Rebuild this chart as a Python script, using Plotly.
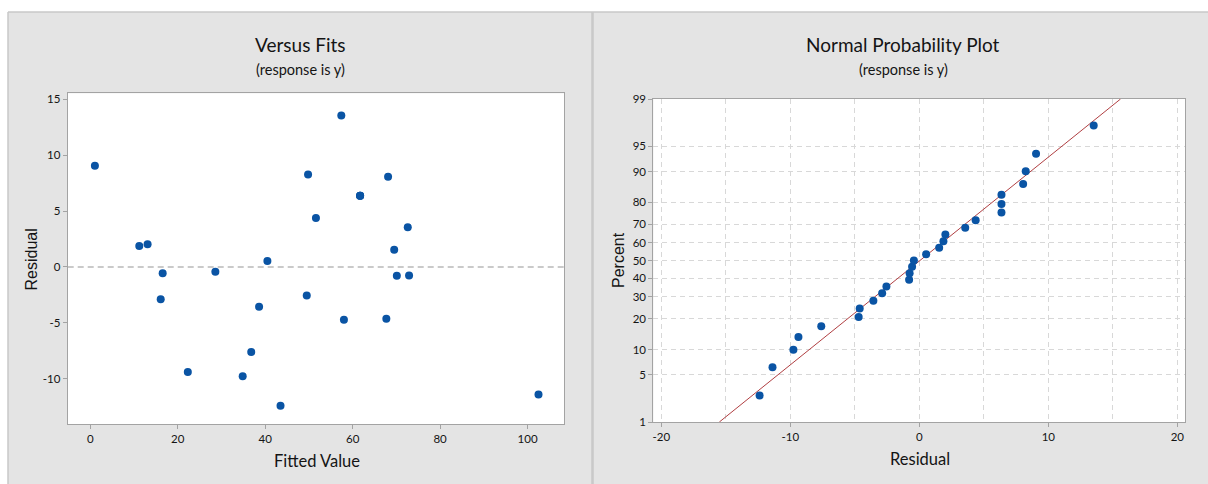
import plotly.graph_objects as go
from statistics import NormalDist

# ---------------- data ----------------
fitted = [1.05, 11.2, 13.1, 16.55, 16.1, 28.6, 22.3, 34.85, 36.8, 38.6, 40.5, 43.5,
          49.5, 49.8, 51.6, 57.4, 58.0, 61.7, 61.7, 61.7, 67.7, 68.1, 69.5, 70.1,
          72.6, 72.9, 102.5]
residuals = [9.05, 1.87, 2.02, -0.56, -2.88, -0.42, -9.37, -9.76, -7.60, -3.56, 0.53, -12.38,
             -2.55, 8.25, 4.37, 13.52, -4.70, 6.37, 6.37, 6.37, -4.62, 8.05, 1.54, -0.79,
             3.56, -0.75, -11.38]
prob_percent = [2.6, 6.2, 9.9, 13.5, 17.2, 20.8, 24.5, 28.1, 31.8, 35.4, 39.1, 42.7, 46.4,
                50.0, 53.6, 57.3, 60.9, 64.6, 68.2, 71.9, 75.5, 79.2, 82.8, 86.5, 90.1,
                93.8, 97.4]
fits_x_ticks = [0, 20, 40, 60, 80, 100]
fits_y_ticks = [-10, -5, 0, 5, 10, 15]
prob_x_ticks = [-20, -10, 0, 10, 20]
prob_x_minor = [-15, -5, 5, 15]
pct_ticks = [1, 5, 10, 20, 30, 40, 50, 60, 70, 80, 90, 95, 99]
fit_line_resid = [-15.5, 15.6]
fit_line_pct = [1, 99]

# ---------------- helpers ----------------
W, H = 1208, 484
def px(x):
    return x / W
def py(y):
    return (H - y) / H

nd = NormalDist()
def zq(p):
    return nd.inv_cdf(p / 100.0)

BLUE = "#0a54a4"
PANEL = "#e4e4e4"
BORDER = "#c9c9c9"
AXCOL = "#a3a3a3"
GRID = "#d8d8d8"
TXT = "#141414"
NARROW = "Lato, Liberation Sans, sans-serif"
WIDE = "Liberation Sans, Arial, sans-serif"

fig = go.Figure()

fig.add_trace(go.Scatter(x=fitted, y=residuals, mode="markers",
                         marker=dict(color=BLUE, size=8, line=dict(width=0)),
                         xaxis="x", yaxis="y", showlegend=False, hoverinfo="skip"))

fig.add_trace(go.Scatter(x=fit_line_resid, y=[zq(p) for p in fit_line_pct], mode="lines",
                         line=dict(color="#b03f42", width=1),
                         xaxis="x2", yaxis="y2", showlegend=False, hoverinfo="skip"))

resid_sorted = sorted(residuals)
fig.add_trace(go.Scatter(x=resid_sorted, y=[zq(p) for p in prob_percent], mode="markers",
                         marker=dict(color=BLUE, size=8, line=dict(width=0)),
                         xaxis="x2", yaxis="y2", showlegend=False, hoverinfo="skip"))

tickfont = dict(family=NARROW, size=11.5, color=TXT)
common = dict(showline=True, linecolor=AXCOL, linewidth=1, mirror=True,
              ticks="outside", ticklen=4, tickcolor=AXCOL, tickwidth=1,
              zeroline=False, tickfont=tickfont, fixedrange=True, tickmode="array")

shapes = [
    # grey panel background with border
    dict(type="rect", xref="paper", yref="paper", x0=px(8), x1=1.0, y0=0.0, y1=py(12),
         fillcolor=PANEL, line=dict(width=0), layer="below"),
    dict(type="line", xref="paper", yref="paper", x0=px(8), x1=1.0, y0=py(12), y1=py(12),
         line=dict(color=BORDER, width=1.5), layer="below"),
    dict(type="line", xref="paper", yref="paper", x0=px(8), x1=px(8), y0=0.0, y1=py(12),
         line=dict(color=BORDER, width=1.5), layer="below"),
    # separator between the two panels
    dict(type="line", xref="paper", yref="paper", x0=px(592.5), x1=px(592.5), y0=0.0, y1=py(12),
         line=dict(color=BORDER, width=2.5), layer="below"),
    # white plot areas
    dict(type="rect", xref="paper", yref="paper", x0=px(67.7), x1=px(564.3), y0=py(424), y1=py(93.3),
         fillcolor="white", line=dict(width=0), layer="below"),
    dict(type="rect", xref="paper", yref="paper", x0=px(653.3), x1=px(1185.3), y0=py(422), y1=py(99),
         fillcolor="white", line=dict(width=0), layer="below"),
    # zero reference line
    dict(type="line", xref="x domain", yref="y", x0=0, x1=1, y0=0, y1=0,
         line=dict(color="#b9b9b9", width=1.5, dash="6px,4px"), layer="below"),
]

annotations = [
    dict(text="Versus Fits", x=px(300), y=py(44), font=dict(family=NARROW, size=19, color=TXT)),
    dict(text="(response is y)", x=px(300.5), y=py(70), font=dict(family=NARROW, size=14.5, color=TXT)),
    dict(text="Fitted Value", x=px(316.5), y=py(461), font=dict(family=NARROW, size=16.5, color=TXT)),
    dict(text="Residual", x=px(31), y=py(259.5), textangle=-90, font=dict(family=WIDE, size=16, color=TXT)),
    dict(text="Normal Probability Plot", x=px(903.5), y=py(44), font=dict(family=NARROW, size=19, color=TXT)),
    dict(text="(response is y)", x=px(903.5), y=py(70), font=dict(family=NARROW, size=14.5, color=TXT)),
    dict(text="Residual", x=px(920), y=py(459), font=dict(family=NARROW, size=16.5, color=TXT)),
    dict(text="Percent", x=px(618), y=py(260), textangle=-90, font=dict(family=WIDE, size=16, color=TXT)),
]
for a in annotations:
    a.update(xref="paper", yref="paper", showarrow=False, xanchor="center", yanchor="middle")

fig.update_layout(
    width=W, height=H, autosize=False,
    margin=dict(l=0, r=0, t=0, b=0, pad=0, autoexpand=False),
    paper_bgcolor="white", plot_bgcolor="white",
    showlegend=False,
    shapes=shapes, annotations=annotations,
    xaxis=dict(domain=[px(67.7), px(564.3)], range=[-5.17, 108.4],
               tickvals=fits_x_ticks, ticktext=[str(v) for v in fits_x_ticks],
               showgrid=False, anchor="y", **common),
    yaxis=dict(domain=[py(424), py(93.3)], range=[-14.02, 15.51],
               tickvals=fits_y_ticks, ticktext=[str(v) for v in fits_y_ticks],
               showgrid=False, anchor="x", **common),
    xaxis2=dict(domain=[px(653.3), px(1185.3)], range=[-20.62, 20.62],
                tickvals=prob_x_ticks, ticktext=[str(v) for v in prob_x_ticks],
                showgrid=True, gridcolor=GRID, gridwidth=1, griddash="5px,4px",
                minor=dict(tickmode="array", tickvals=prob_x_minor, showgrid=True, gridcolor=GRID,
                           gridwidth=1, griddash="5px,4px", ticks=""),
                anchor="y2", **common),
    yaxis2=dict(domain=[py(422), py(99)], range=[zq(1), zq(99)],
                tickvals=[zq(p) for p in pct_ticks], ticktext=[str(p) for p in pct_ticks],
                showgrid=True, gridcolor=GRID, gridwidth=1, griddash="5px,4px",
                anchor="x2", **common),
)

fig.write_html("out.html", config={"displayModeBar": False, "responsive": False},
               post_script="document.body.style.margin='0';document.body.style.overflow='hidden';")
